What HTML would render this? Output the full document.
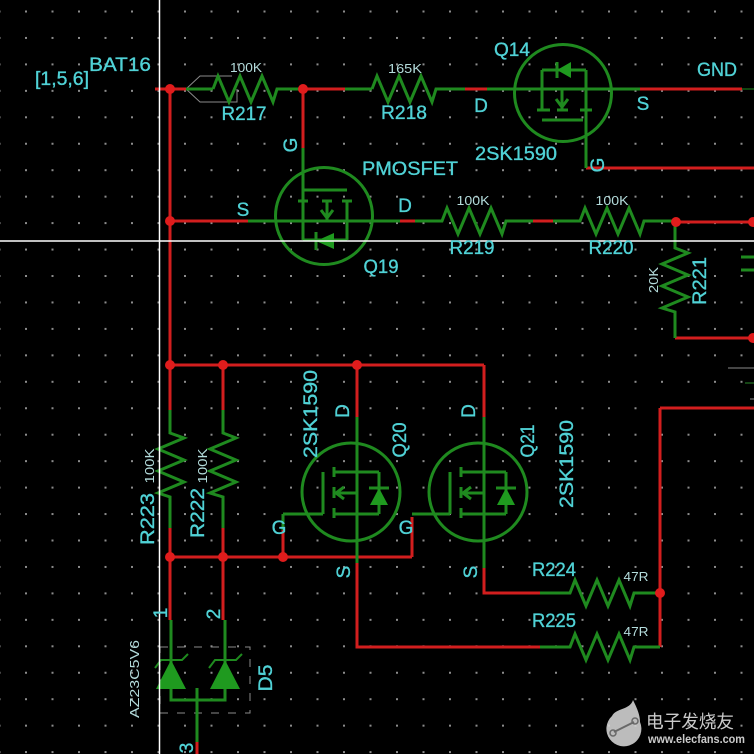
<!DOCTYPE html>
<html><head><meta charset="utf-8"><style>
html,body{margin:0;padding:0;background:#000;}
svg{display:block;}
text{font-family:"Liberation Sans",Arial,sans-serif;}
.t{fill:#50d2d6;font-size:19px;stroke:#50d2d6;stroke-width:0.35px;}
.s{fill:#b4dcdc;font-size:13px;}
</style></head><body>
<svg width="754" height="754" viewBox="0 0 754 754" xmlns="http://www.w3.org/2000/svg">
<defs>
<pattern id="grid" x="25" y="10.5" width="26.5" height="26.45" patternUnits="userSpaceOnUse">
<rect x="0" y="0" width="2" height="2" fill="#8c8c8c"/>
</pattern>
</defs>
<rect width="754" height="754" fill="#000"/>
<rect width="754" height="754" fill="url(#grid)"/>

<g fill="none" stroke="#8a8a8a" stroke-width="1">
<polyline points="232,76 200,76 186,89 200,102 237,102 237,89"/>
<rect x="160" y="647" width="90" height="66" stroke-dasharray="8,9"/>
<line x1="728" y1="368" x2="754" y2="368"/>
<line x1="745" y1="383" x2="754" y2="383" stroke="#2a8a2a"/>
<line x1="750" y1="399" x2="754" y2="399"/>
</g>

<g stroke="#d21e1e" stroke-width="3" fill="none" stroke-linecap="butt">
<line x1="155" y1="89" x2="186" y2="89"/>
<line x1="303" y1="89" x2="345" y2="89"/>
<line x1="465" y1="89" x2="487" y2="89"/>
<line x1="640" y1="89" x2="742" y2="89"/>
<line x1="170" y1="89" x2="170" y2="410"/>
<line x1="170" y1="528" x2="170" y2="620"/>
<line x1="303" y1="89" x2="303" y2="148"/>
<line x1="170" y1="221" x2="248" y2="221"/>
<line x1="400" y1="221" x2="415" y2="221"/>
<line x1="533" y1="221" x2="553" y2="221"/>
<line x1="676" y1="222" x2="754" y2="222"/>
<line x1="675" y1="338" x2="754" y2="338"/>
<line x1="586" y1="168" x2="754" y2="168"/>
<line x1="170" y1="365" x2="484" y2="365"/>
<line x1="484" y1="365" x2="484" y2="417"/>
<line x1="357" y1="365" x2="357" y2="417"/>
<line x1="223" y1="365" x2="223" y2="410"/>
<line x1="223" y1="528" x2="223" y2="620"/>
<line x1="170" y1="557" x2="412" y2="557"/>
<line x1="283" y1="530" x2="283" y2="557"/>
<line x1="412" y1="517" x2="412" y2="557"/>
<polyline points="357,563 357,647 540,647"/>
<polyline points="484,568 484,593 540,593"/>
<line x1="660" y1="408" x2="660" y2="647"/>
<line x1="660" y1="408" x2="754" y2="408"/>
<line x1="197" y1="742" x2="197" y2="754"/>
</g>

<g stroke="#1f8a1f" stroke-width="3" fill="none" stroke-linejoin="miter">
<line x1="186" y1="89" x2="213" y2="89"/>
<polyline points="213,89 218,76 229,102 240,76 251,102 262,76 273,102 277,89 303,89"/>
<line x1="345" y1="89" x2="372" y2="89"/>
<polyline points="372,89 377,76 388,102 399,76 410,102 421,76 432,102 436,89 465,89"/>
<line x1="487" y1="89" x2="640" y2="89"/>
<line x1="742" y1="89" x2="754" y2="89" stroke-width="1"/>
<line x1="303" y1="148" x2="303" y2="240"/>
<line x1="248" y1="221" x2="400" y2="221"/>
<polyline points="415,221 442,221 447,208 458,234 469,208 480,234 491,208 502,234 506,221 533,221"/>
<polyline points="553,221 580,221 585,208 596,234 607,208 618,234 629,208 640,234 644,221 676,221"/>
<polyline points="675,222 675,248 688,253 662,264 688,275 662,286 688,297 662,308 675,312 675,338"/>
<polyline points="170,410 170,433 184,438 158,449 184,460 158,471 184,482 158,493 170,497 170,528"/>
<polyline points="223,410 223,433 236,438 210,449 236,460 210,471 236,482 210,493 223,497 223,528"/>
<polyline points="540,593 570,593 575,580 586,606 597,580 608,606 619,580 630,606 634,593 660,593"/>
<polyline points="540,647 570,647 575,634 586,660 597,634 608,660 619,634 630,660 634,647 660,647"/>
<line x1="741" y1="257" x2="754" y2="257"/>
<line x1="741" y1="270" x2="754" y2="270"/>

<circle cx="563" cy="93" r="48.5"/>
<line x1="542" y1="70" x2="586" y2="70"/>
<line x1="542" y1="70" x2="542" y2="110"/>
<line x1="537" y1="110" x2="550" y2="110"/>
<line x1="562" y1="89" x2="562" y2="110"/>
<line x1="557" y1="110" x2="568" y2="110"/>
<polyline points="556,99 562,107 568,99"/>
<line x1="586" y1="70" x2="586" y2="168"/>
<line x1="580" y1="110" x2="592" y2="110"/>
<line x1="542" y1="120" x2="583" y2="120"/>
<line x1="557" y1="62" x2="557" y2="78"/>

<circle cx="324" cy="216" r="48.5"/>
<line x1="303" y1="190" x2="347" y2="190"/>
<line x1="298" y1="201" x2="308" y2="201"/>
<line x1="322" y1="201" x2="332" y2="201"/>
<line x1="342" y1="201" x2="352" y2="201"/>
<line x1="327" y1="201" x2="327" y2="220"/>
<polyline points="321,210 327,218 333,210"/>
<line x1="347" y1="201" x2="347" y2="240"/>
<line x1="303" y1="240" x2="347" y2="240"/>
<line x1="316" y1="232" x2="316" y2="250"/>

<circle cx="351" cy="492" r="49"/>
<line x1="357" y1="417" x2="357" y2="563"/>
<line x1="283" y1="514" x2="283" y2="530"/>
<line x1="283" y1="514" x2="323" y2="514"/>
<line x1="323" y1="472" x2="323" y2="514"/>
<line x1="334" y1="467" x2="334" y2="477"/>
<line x1="334" y1="487" x2="334" y2="498"/>
<line x1="334" y1="508" x2="334" y2="518"/>
<line x1="334" y1="472" x2="379" y2="472"/>
<line x1="334" y1="493" x2="357" y2="493"/>
<polyline points="344,487 336,493 344,499"/>
<line x1="334" y1="514" x2="379" y2="514"/>
<line x1="379" y1="472" x2="379" y2="514"/>
<line x1="369" y1="488" x2="389" y2="488"/>

<circle cx="478" cy="492" r="49"/>
<line x1="484" y1="417" x2="484" y2="568"/>
<line x1="412" y1="514" x2="450" y2="514"/>
<line x1="450" y1="472" x2="450" y2="514"/>
<line x1="461" y1="467" x2="461" y2="477"/>
<line x1="461" y1="487" x2="461" y2="498"/>
<line x1="461" y1="508" x2="461" y2="518"/>
<line x1="461" y1="472" x2="506" y2="472"/>
<line x1="461" y1="493" x2="484" y2="493"/>
<polyline points="471,487 463,493 471,499"/>
<line x1="461" y1="514" x2="506" y2="514"/>
<line x1="506" y1="472" x2="506" y2="514"/>
<line x1="496" y1="488" x2="516" y2="488"/>

<polyline points="171,620 171,700 225,700 225,620"/>
<line x1="197" y1="688" x2="197" y2="742"/>
<polyline points="155,668 161,660 182,660 188,654" stroke-width="2"/>
<polyline points="209,668 215,660 236,660 242,654" stroke-width="2"/>
</g>

<g fill="#1f9a1f" stroke="none">
<polygon points="557,70 571,62 571,78"/>
<polygon points="316,241 334,233 334,249"/>
<polygon points="379,488 370,505 388,505"/>
<polygon points="506,488 497,505 515,505"/>
<polygon points="171,660 156,689 186,689"/>
<polygon points="225,660 210,689 240,689"/>
</g>

<g fill="#e01c1c">
<circle cx="170" cy="89" r="5"/>
<circle cx="303" cy="89" r="5"/>
<circle cx="170" cy="221" r="5"/>
<circle cx="676" cy="222" r="5"/>
<circle cx="753" cy="222" r="5"/>
<circle cx="753" cy="338" r="5"/>
<circle cx="170" cy="365" r="5"/>
<circle cx="223" cy="365" r="5"/>
<circle cx="357" cy="365" r="5"/>
<circle cx="170" cy="557" r="5"/>
<circle cx="223" cy="557" r="5"/>
<circle cx="283" cy="557" r="5"/>
<circle cx="660" cy="593" r="5"/>
</g>

<line x1="159.5" y1="0" x2="159.5" y2="754" stroke="#fff" stroke-width="1.5"/>
<line x1="0" y1="241" x2="754" y2="241" stroke="#fff" stroke-width="1.5"/>

<g text-anchor="middle">
<text class="t" x="62" y="85" font-size="23" textLength="54" lengthAdjust="spacingAndGlyphs">[1,5,6]</text>
<text class="t" x="120" y="71" textLength="62" lengthAdjust="spacingAndGlyphs">BAT16</text>
<text class="s" x="246" y="72" textLength="32" lengthAdjust="spacingAndGlyphs">100K</text>
<text class="t" x="244" y="120" textLength="45" lengthAdjust="spacingAndGlyphs">R217</text>
<text class="s" x="405" y="73" textLength="34" lengthAdjust="spacingAndGlyphs">165K</text>
<text class="t" x="404" y="119" textLength="46" lengthAdjust="spacingAndGlyphs">R218</text>
<text class="t" x="512" y="56" textLength="36" lengthAdjust="spacingAndGlyphs">Q14</text>
<text class="t" x="481" y="112">D</text>
<text class="t" x="643" y="110">S</text>
<text class="t" x="717" y="76" textLength="40" lengthAdjust="spacingAndGlyphs">GND</text>
<text class="t" x="516" y="160" textLength="82" lengthAdjust="spacingAndGlyphs">2SK1590</text>
<text class="t" transform="translate(597,165) rotate(-90)" x="0" y="7">G</text>
<text class="t" transform="translate(290,145) rotate(-90)" x="0" y="7">G</text>
<text class="t" x="410" y="175" textLength="96" lengthAdjust="spacingAndGlyphs">PMOSFET</text>
<text class="t" x="243" y="216">S</text>
<text class="t" x="405" y="212">D</text>
<text class="t" x="381" y="273" textLength="35" lengthAdjust="spacingAndGlyphs">Q19</text>
<text class="s" x="473" y="205" textLength="33" lengthAdjust="spacingAndGlyphs">100K</text>
<text class="t" x="472" y="254" textLength="45" lengthAdjust="spacingAndGlyphs">R219</text>
<text class="s" x="612" y="205" textLength="33" lengthAdjust="spacingAndGlyphs">100K</text>
<text class="t" x="611" y="254" textLength="45" lengthAdjust="spacingAndGlyphs">R220</text>
<text class="s" transform="translate(653,280) rotate(-90)" x="0" y="5" textLength="26" lengthAdjust="spacingAndGlyphs">20K</text>
<text class="t" transform="translate(699,281) rotate(-90)" x="0" y="7" textLength="48" lengthAdjust="spacingAndGlyphs">R221</text>
<text class="t" transform="translate(147,519) rotate(-90)" x="0" y="7" textLength="52" lengthAdjust="spacingAndGlyphs">R223</text>
<text class="s" transform="translate(149,466) rotate(-90)" x="0" y="5" textLength="35" lengthAdjust="spacingAndGlyphs">100K</text>
<text class="t" transform="translate(197,513) rotate(-90)" x="0" y="7" textLength="50" lengthAdjust="spacingAndGlyphs">R222</text>
<text class="s" transform="translate(202,466) rotate(-90)" x="0" y="5" textLength="35" lengthAdjust="spacingAndGlyphs">100K</text>
<text class="t" transform="translate(310,414) rotate(-90)" x="0" y="7" textLength="88" lengthAdjust="spacingAndGlyphs">2SK1590</text>
<text class="t" transform="translate(399,440) rotate(-90)" x="0" y="7" textLength="35" lengthAdjust="spacingAndGlyphs">Q20</text>
<text class="t" transform="translate(342,411) rotate(-90)" x="0" y="7">D</text>
<text class="t" transform="translate(343,572) rotate(-90)" x="0" y="7">S</text>
<text class="t" x="279" y="534">G</text>
<text class="t" x="406" y="534">G</text>
<text class="t" transform="translate(527,441) rotate(-90)" x="0" y="7" textLength="33" lengthAdjust="spacingAndGlyphs">Q21</text>
<text class="t" transform="translate(468,411) rotate(-90)" x="0" y="7">D</text>
<text class="t" transform="translate(470,572) rotate(-90)" x="0" y="7">S</text>
<text class="t" transform="translate(566,464) rotate(-90)" x="0" y="7" textLength="88" lengthAdjust="spacingAndGlyphs">2SK1590</text>
<text class="t" x="554" y="576" textLength="44" lengthAdjust="spacingAndGlyphs">R224</text>
<text class="s" x="636" y="581" textLength="25" lengthAdjust="spacingAndGlyphs">47R</text>
<text class="t" x="554" y="627" textLength="44" lengthAdjust="spacingAndGlyphs">R225</text>
<text class="s" x="636" y="636" textLength="25" lengthAdjust="spacingAndGlyphs">47R</text>
<text class="t" transform="translate(160,613) rotate(-90)" x="0" y="7">1</text>
<text class="t" transform="translate(213,614) rotate(-90)" x="0" y="7">2</text>
<text class="t" transform="translate(186,748) rotate(-90)" x="0" y="7">3</text>
<text class="s" transform="translate(134,679) rotate(-90)" x="0" y="5" font-size="14" textLength="78" lengthAdjust="spacingAndGlyphs">AZ23C5V6</text>
<text class="t" transform="translate(265,678) rotate(-90)" x="0" y="7" textLength="27" lengthAdjust="spacingAndGlyphs">D5</text>
</g>

<g opacity="0.88">
<path d="M612,716 C616,708 630,710 633,700 C638,710 640,716 640,722 A17.5,17.5 0 1 1 612,716 Z" fill="#d6d6d6"/>
<line x1="614" y1="732" x2="634" y2="722" stroke="#777" stroke-width="2"/>
<circle cx="613" cy="733" r="3" fill="none" stroke="#777" stroke-width="1.5"/>
<circle cx="635" cy="721" r="3" fill="none" stroke="#777" stroke-width="1.5"/>
<text x="646" y="728" font-family="'Liberation Sans','Noto Sans CJK SC',sans-serif" font-size="18" fill="#e6e6e6" textLength="88" lengthAdjust="spacingAndGlyphs">电子发烧友</text>
<text x="648" y="743" font-size="11.5" font-weight="bold" fill="#e6e6e6" textLength="97" lengthAdjust="spacingAndGlyphs">www.elecfans.com</text>
</g>
</svg>
</body></html>
